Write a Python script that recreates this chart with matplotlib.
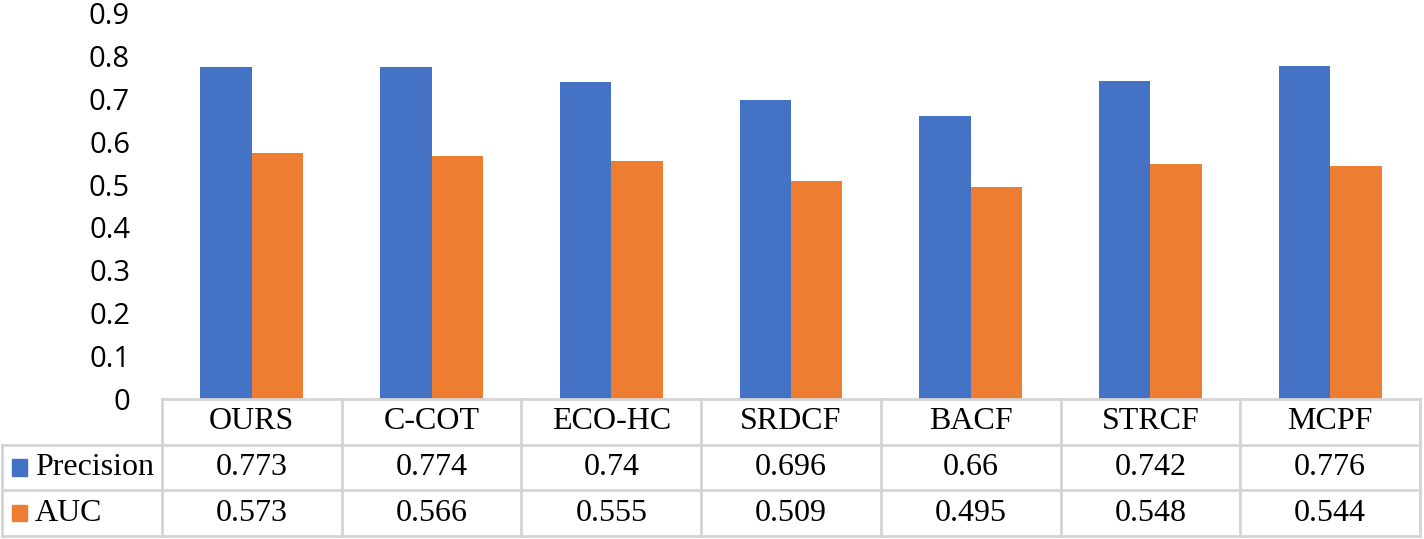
import matplotlib.pyplot as plt
import numpy as np

# Data
trackers = ['OURS', 'C-COT', 'ECO-HC', 'SRDCF', 'BACF', 'STRCF', 'MCPF']
precision = [0.773, 0.774, 0.74, 0.696, 0.66, 0.742, 0.776]
auc = [0.573, 0.566, 0.555, 0.509, 0.495, 0.548, 0.544]
series_names = ['Precision', 'AUC']
colors = ['#4472C4', '#ED7D31']
yticks = [0, 0.1, 0.2, 0.3, 0.4, 0.5, 0.6, 0.7, 0.8, 0.9]

W, H = 1424, 539
fig = plt.figure(figsize=(W / 100, H / 100), dpi=100)

# main chart area (pixel box converted to figure fraction)
left_px, right_px, top_px, zero_px, tab_bot_px = 162, 1420, 13, 399, 536
ax = fig.add_axes([left_px / W, 1 - zero_px / H,
                   (right_px - left_px) / W, (zero_px - top_px) / H])

x = np.arange(len(trackers))
bw = 0.286
ax.bar(x - bw / 2, precision, bw, color=colors[0])
ax.bar(x + bw / 2, auc, bw, color=colors[1])
ax.set_xlim(-0.5, len(trackers) - 0.5)
ax.set_ylim(0, 0.9)
ax.set_yticks(yticks)
ax.set_yticklabels([f'{v:g}' for v in yticks], fontsize=21,
                   fontfamily='Open Sans')
ax.tick_params(axis='y', length=0, pad=23)
ax.set_xticks([])
for s in ax.spines.values():
    s.set_visible(False)

# data table underneath, same x scale as the chart
unit = (right_px - left_px) / len(trackers)
tab = fig.add_axes([0, 1 - tab_bot_px / H, right_px / W,
                    (tab_bot_px - zero_px) / H])
tab.set_xlim(-0.5 - left_px / unit, len(trackers) - 0.5)
tab.set_ylim(0, 3)
tab.axis('off')

grid = dict(color='#d4d4d4', lw=2, clip_on=False)
x0 = tab.get_xlim()[0] + 0.01
tab.plot([-0.5, len(trackers) - 0.5], [3, 3], **grid)
for yy in [2, 1, 0]:
    tab.plot([x0, len(trackers) - 0.5], [yy, yy], **grid)
for i in range(len(trackers) + 1):
    tab.plot([i - 0.5, i - 0.5], [0, 3], **grid)
tab.plot([x0, x0], [0, 2], **grid)

tfont = dict(fontfamily='Liberation Serif', fontsize=23,
             ha='center', va='center')
for i, name in enumerate(trackers):
    tab.text(i, 2.5, name, **tfont)
    tab.text(i, 1.5, f'{precision[i]:g}', **tfont)
    tab.text(i, 0.5, f'{auc[i]:g}', **tfont)

# row labels with legend keys
for row, (name, c) in enumerate(zip(series_names, colors)):
    yc = 1.5 - row
    tab.add_patch(plt.Rectangle((x0 + 0.055, yc - 0.18), 0.085, 0.36,
                                color=c, clip_on=False))
    tab.text(x0 + 0.185, yc, name, fontfamily='Liberation Serif',
             fontsize=23, ha='left', va='center')

fig.savefig('out.png', dpi=100)
